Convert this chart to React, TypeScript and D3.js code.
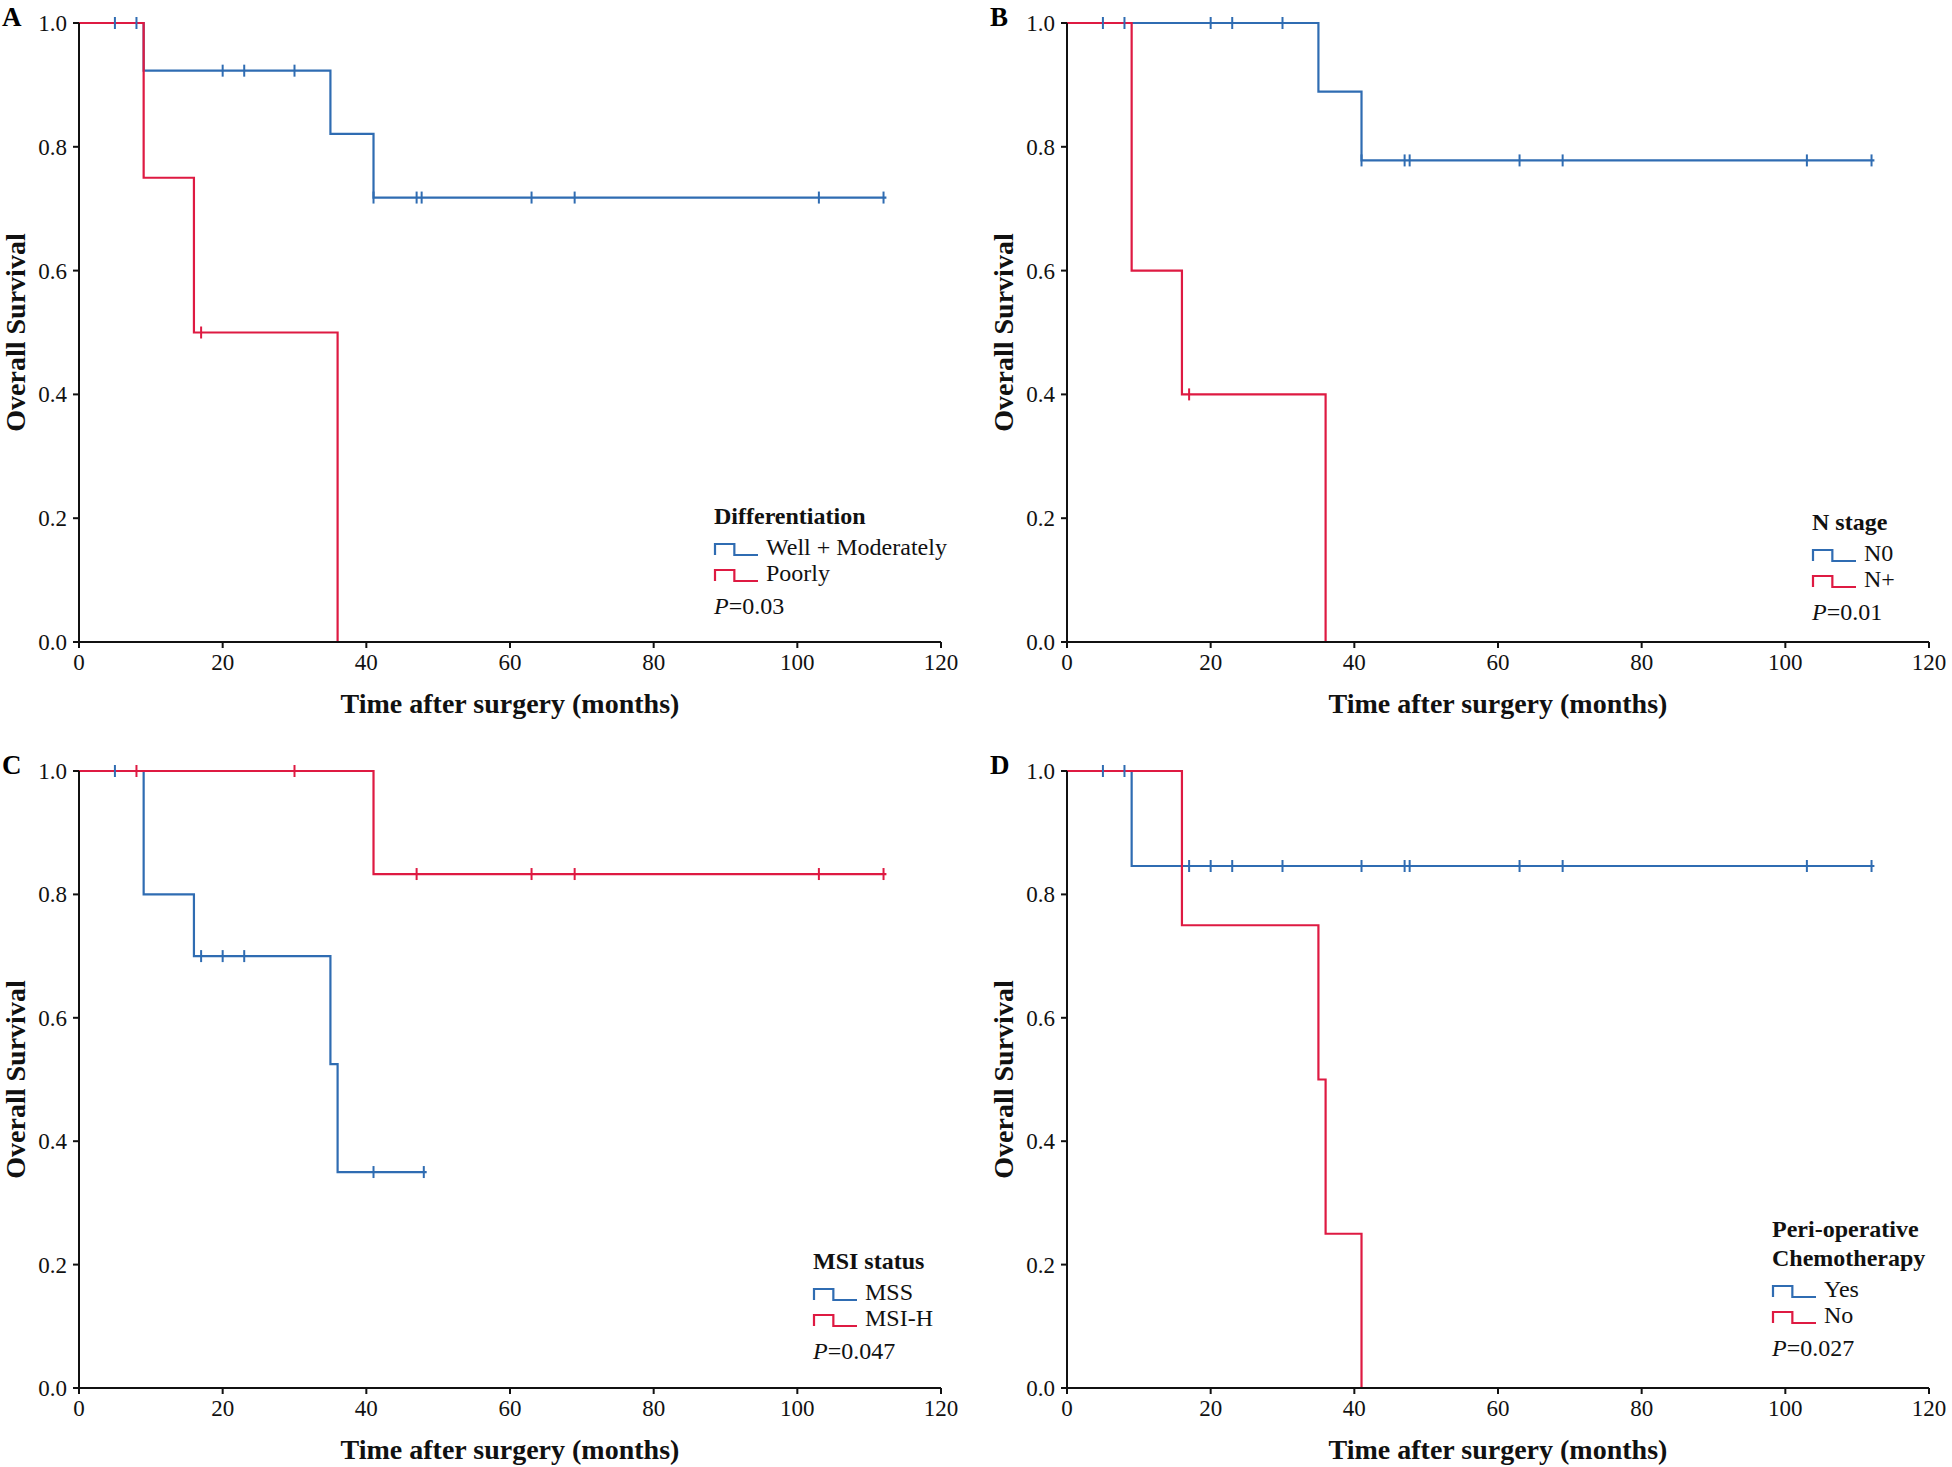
import React from 'react';
import * as d3 from 'd3';

const xTicks = [0, 20, 40, 60, 80, 100, 120];
const yTicks = [0, 0.2, 0.4, 0.6, 0.8, 1.0];

// Panel A – Differentiation
const aWellTimes = [0, 9, 35, 41];
const aWellSurv = [1, 0.923, 0.821, 0.718];
const aWellCensor = [5, 8, 20, 23, 30, 41, 47, 47.7, 63, 69, 103, 112];
const aWellEnd = 112.4;
const aPoorTimes = [0, 9, 16, 36];
const aPoorSurv = [1, 0.75, 0.5, 0];
const aPoorCensor = [17];
const aPoorEnd = 36;

// Panel B – N stage
const bN0Times = [0, 35, 41];
const bN0Surv = [1, 0.889, 0.778];
const bN0Censor = [5, 8, 20, 23, 30, 41, 47, 47.7, 63, 69, 103, 112];
const bN0End = 112.4;
const bNpTimes = [0, 9, 16, 36];
const bNpSurv = [1, 0.6, 0.4, 0];
const bNpCensor = [17];
const bNpEnd = 36;

// Panel C – MSI status
const cMssTimes = [0, 9, 16, 35, 36];
const cMssSurv = [1, 0.8, 0.7, 0.525, 0.35];
const cMssCensor = [5, 17, 20, 23, 41, 48];
const cMssEnd = 48.4;
const cMsiTimes = [0, 41];
const cMsiSurv = [1, 0.833];
const cMsiCensor = [8, 30, 47, 63, 69, 103, 112];
const cMsiEnd = 112.4;

// Panel D – Peri-operative chemotherapy
const dYesTimes = [0, 9];
const dYesSurv = [1, 0.846];
const dYesCensor = [5, 8, 17, 20, 23, 30, 41, 47, 47.7, 63, 69, 103, 112];
const dYesEnd = 112.4;
const dNoTimes = [0, 16, 35, 36, 41];
const dNoSurv = [1, 0.75, 0.5, 0.25, 0];
const dNoCensor: number[] = [];
const dNoEnd = 41;

const BLUE = '#2f6cb2';
const RED = '#de1a42';
const FONT = '"Liberation Serif", "Times New Roman", serif';

type Series = { times: number[]; surv: number[]; censor: number[]; end: number; color: string };
type Legend = { title: string[]; labels: string[]; p: string; dx: number; dy: number };

function survAt(s: Series, t: number) {
  let v = s.surv[0];
  for (let i = 0; i < s.times.length; i++) if (s.times[i] <= t) v = s.surv[i];
  return v;
}

function Panel({ left, top, width, height, letter, series, legend }: {
  left: number; top: number; width: number; height: number; letter: string; series: Series[]; legend: Legend;
}) {
  const x = d3.scaleLinear().domain([0, 120]).range([left, left + width]);
  const y = d3.scaleLinear().domain([0, 1]).range([top + height, top]);
  const line = d3.line<[number, number]>().x(d => x(d[0])).y(d => y(d[1])).curve(d3.curveStepAfter);
  const fmt = d3.format('.1f');
  const y0 = y(0);
  const x0 = x(0);
  const lx = left + legend.dx;
  const ly = top + legend.dy;
  const titleGap = 29;
  const afterTitle = ly + (legend.title.length - 1) * titleGap;
  return (
    <g>
      <text x={left - 77} y={top + 3} fontFamily={FONT} fontWeight="bold" fontSize={27}>{letter}</text>
      {series.map((s, i) => {
        const pts: [number, number][] = s.times.map((t, j) => [t, s.surv[j]] as [number, number]);
        pts.push([s.end, s.surv[s.surv.length - 1]]);
        return <path key={'l' + i} d={line(pts) || ''} fill="none" stroke={s.color} strokeWidth={2.2} />;
      })}
      {series.map((s, i) => (
        <g key={'c' + i}>
          {s.censor.map((t, j) => (
            <line key={j} x1={x(t)} x2={x(t)} y1={y(survAt(s, t)) - 6} y2={y(survAt(s, t)) + 6} stroke={s.color} strokeWidth={2} />
          ))}
        </g>
      ))}
      <line x1={x0} x2={x(120)} y1={y0} y2={y0} stroke="#111" strokeWidth={2} />
      <line x1={x0} x2={x0} y1={y0} y2={y(1)} stroke="#111" strokeWidth={2} />
      {xTicks.map(t => (
        <g key={'xt' + t}>
          <line x1={x(t)} x2={x(t)} y1={y0} y2={y0 + 6} stroke="#111" strokeWidth={2} />
          <text x={x(t)} y={y0 + 28} textAnchor="middle" fontFamily={FONT} fontSize={23} fill="#111">{t}</text>
        </g>
      ))}
      {yTicks.map(t => (
        <g key={'yt' + t}>
          <line x1={x0 - 6} x2={x0} y1={y(t)} y2={y(t)} stroke="#111" strokeWidth={2} />
          <text x={x0 - 12} y={y(t)} dy="0.35em" textAnchor="end" fontFamily={FONT} fontSize={23} fill="#111">{fmt(t)}</text>
        </g>
      ))}
      <text x={left + width / 2} y={y0 + 71} textAnchor="middle" fontFamily={FONT} fontWeight="bold" fontSize={28} fill="#111">Time after surgery (months)</text>
      <text transform={`translate(${x0 - 54},${top + height / 2}) rotate(-90)`} textAnchor="middle" fontFamily={FONT} fontWeight="bold" fontSize={28} fill="#111">Overall Survival</text>
      {legend.title.map((tl, i) => (
        <text key={'lt' + i} x={lx} y={ly + i * titleGap} fontFamily={FONT} fontWeight="bold" fontSize={24} fill="#111">{tl}</text>
      ))}
      {legend.labels.map((lab, i) => {
        const by = afterTitle + 31 + i * 26;
        const sx = lx + 1;
        const w = 43;
        return (
          <g key={'li' + i}>
            <path d={`M${sx},${by} V${by - 11} H${sx + w * 0.45} V${by} H${sx + w}`} fill="none" stroke={series[i].color} strokeWidth={2.2} />
            <text x={lx + 52} y={by} fontFamily={FONT} fontSize={24} fill="#111">{lab}</text>
          </g>
        );
      })}
      <text x={lx} y={afterTitle + 31 + legend.labels.length * 26 + 7} fontFamily={FONT} fontSize={24} fill="#111">
        <tspan fontStyle="italic">P</tspan>{legend.p}
      </text>
    </g>
  );
}

export default function App() {
  const W = 862;
  const panels = [
    {
      left: 79, top: 23, height: 619, letter: 'A',
      series: [
        { times: aWellTimes, surv: aWellSurv, censor: aWellCensor, end: aWellEnd, color: BLUE },
        { times: aPoorTimes, surv: aPoorSurv, censor: aPoorCensor, end: aPoorEnd, color: RED },
      ],
      legend: { title: ['Differentiation'], labels: ['Well + Moderately', 'Poorly'], p: '=0.03', dx: 635, dy: 501 },
    },
    {
      left: 1067, top: 23, height: 619, letter: 'B',
      series: [
        { times: bN0Times, surv: bN0Surv, censor: bN0Censor, end: bN0End, color: BLUE },
        { times: bNpTimes, surv: bNpSurv, censor: bNpCensor, end: bNpEnd, color: RED },
      ],
      legend: { title: ['N stage'], labels: ['N0', 'N+'], p: '=0.01', dx: 745, dy: 507 },
    },
    {
      left: 79, top: 771, height: 617, letter: 'C',
      series: [
        { times: cMssTimes, surv: cMssSurv, censor: cMssCensor, end: cMssEnd, color: BLUE },
        { times: cMsiTimes, surv: cMsiSurv, censor: cMsiCensor, end: cMsiEnd, color: RED },
      ],
      legend: { title: ['MSI status'], labels: ['MSS', 'MSI-H'], p: '=0.047', dx: 734, dy: 498 },
    },
    {
      left: 1067, top: 771, height: 617, letter: 'D',
      series: [
        { times: dYesTimes, surv: dYesSurv, censor: dYesCensor, end: dYesEnd, color: BLUE },
        { times: dNoTimes, surv: dNoSurv, censor: dNoCensor, end: dNoEnd, color: RED },
      ],
      legend: { title: ['Peri-operative', 'Chemotherapy'], labels: ['Yes', 'No'], p: '=0.027', dx: 705, dy: 466 },
    },
  ];
  return (
    <svg width={1952} height={1467} style={{ position: 'absolute', left: 0, top: 0, background: '#fff' }}>
      <rect width={1952} height={1467} fill="#fff" />
      {panels.map(p => (
        <Panel key={p.letter} left={p.left} top={p.top} width={W} height={p.height} letter={p.letter} series={p.series} legend={p.legend} />
      ))}
    </svg>
  );
}
